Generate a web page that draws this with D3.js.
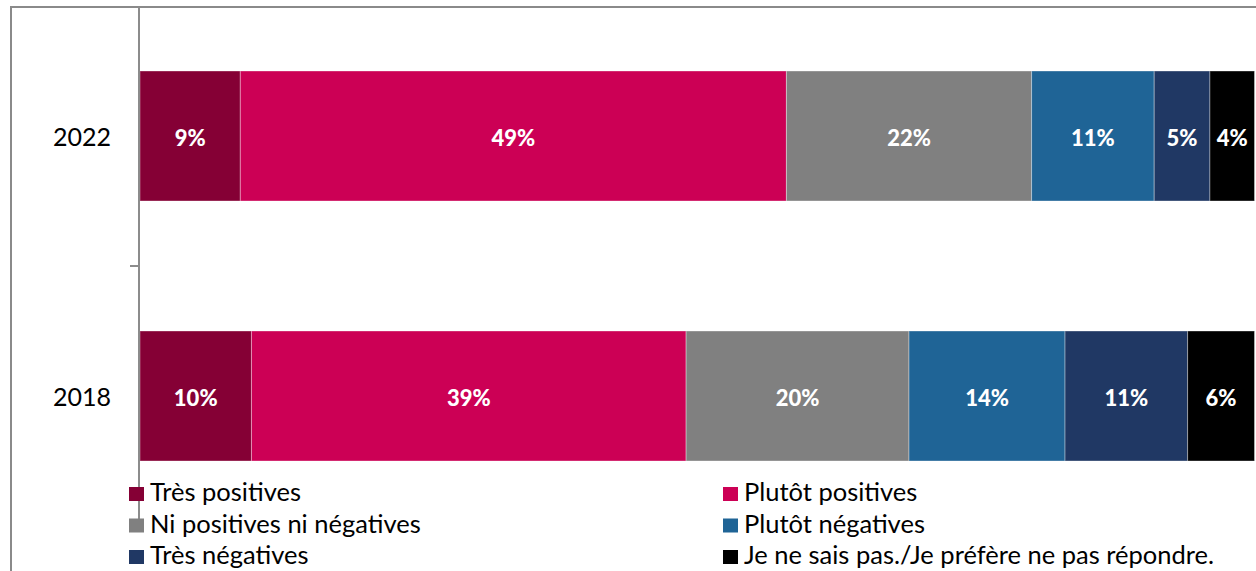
<!DOCTYPE html>
<html>
<head>
<meta charset="utf-8">
<script src="https://cdn.jsdelivr.net/npm/d3@7"></script>
<style>
  html, body { margin: 0; padding: 0; background: #fff; }
  svg { display: block; }
</style>
</head>
<body>
<svg id="chart" width="1256" height="571"></svg>
<script>
// ---- data ----
const years = ["2022", "2018"];
const seriesNames = ["Très positives", "Plutôt positives", "Ni positives ni négatives", "Plutôt négatives", "Très négatives", "Je ne sais pas./Je préfère ne pas répondre."];
const seriesColors = ["#850035", "#cc0055", "#808080", "#1f6496", "#203864", "#000000"];
const values2022 = [9, 49, 22, 11, 5, 4];
const values2018 = [10, 39, 20, 14, 11, 6];
const valueLabels2022 = ["9%", "49%", "22%", "11%", "5%", "4%"];
const valueLabels2018 = ["10%", "39%", "20%", "14%", "11%", "6%"];

const valuesByYear = { "2022": values2022, "2018": values2018 };
const labelsByYear = { "2022": valueLabels2022, "2018": valueLabels2018 };

const svg = d3.select("#chart");

// outer frame
svg.append("rect")
  .attr("x", 11).attr("y", 7)
  .attr("width", 1256).attr("height", 600)
  .attr("fill", "none").attr("stroke", "#8a8a8a").attr("stroke-width", 2);

const x = d3.scaleLinear().domain([0, 100]).range([140, 1254.5]);
const y = d3.scaleBand().domain(years).range([6, 526]).paddingInner(0.5).paddingOuter(0.25);

// build stacked rows
const rows = years.map(yr => {
  const obj = { year: yr };
  seriesNames.forEach((s, i) => obj[s] = valuesByYear[yr][i]);
  return obj;
});
const stack = d3.stack().keys(seriesNames)(rows);

const g = svg.append("g");
stack.forEach((layer, si) => {
  layer.forEach(d => {
    const yr = d.data.year;
    const x0 = x(d[0]), x1 = x(d[1]);
    g.append("rect")
      .attr("x", x0).attr("y", y(yr))
      .attr("width", x1 - x0).attr("height", y.bandwidth())
      .attr("fill", seriesColors[si])
      .attr("stroke", "rgba(255,255,255,0.35)")
      .attr("stroke-width", 1);
    g.append("text")
      .attr("x", (x0 + x1) / 2)
      .attr("y", y(yr) + y.bandwidth() / 2 + 10)
      .attr("text-anchor", "middle")
      .attr("font-family", "Lato, 'Open Sans', sans-serif")
      .attr("font-weight", "900")
      .attr("font-size", 22)
      .attr("fill", "#fff")
      .text(labelsByYear[yr][si]);
  });
});

// vertical axis
const axisX = 139;
svg.append("line")
  .attr("x1", axisX).attr("x2", axisX)
  .attr("y1", 7).attr("y2", y.range()[1])
  .attr("stroke", "#8c8c8c").attr("stroke-width", 2);
// tick between the categories
const midTick = (y("2022") + y.bandwidth() + y("2018")) / 2;
svg.append("line")
  .attr("x1", axisX - 9).attr("x2", axisX)
  .attr("y1", midTick).attr("y2", midTick)
  .attr("stroke", "#8c8c8c").attr("stroke-width", 2);

// category labels
years.forEach(yr => {
  svg.append("text")
    .attr("x", 111)
    .attr("y", y(yr) + y.bandwidth() / 2 + 10)
    .attr("text-anchor", "end")
    .attr("font-family", "Lato, 'Open Sans', sans-serif")
    .attr("font-size", 25)
    .attr("fill", "#000")
    .text(yr);
});

// legend
const legendCols = [129, 723];
const legendRows = [501, 532.5, 564];
seriesNames.forEach((s, i) => {
  const cx = legendCols[i % 2];
  const by = legendRows[Math.floor(i / 2)];
  svg.append("rect")
    .attr("x", cx).attr("y", by - 14)
    .attr("width", 15).attr("height", 14)
    .attr("fill", seriesColors[i]);
  svg.append("text")
    .attr("x", cx + 21).attr("y", by)
    .attr("font-family", "Lato, 'Open Sans', sans-serif")
    .attr("font-size", 25.5)
    .attr("fill", "#000")
    .text(s);
});
</script>
</body>
</html>
